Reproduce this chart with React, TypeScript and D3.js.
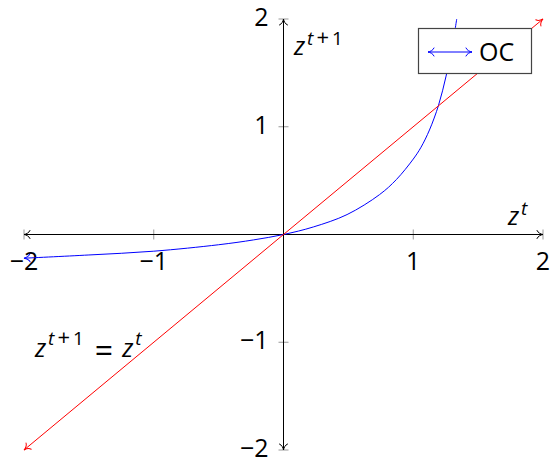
import React from 'react';
import * as d3 from 'd3';

// values
const tickValues = [-2, -1, 0, 1, 2];
const tickLabels = ['−2', '−1', '', '1', '2'];
const ocX = [-2, -1.5, -1, -0.5, -0.23, 0, 0.23, 0.49, 0.74, 0.87, 1.0, 1.06, 1.125, 1.195, 1.253, 1.3, 1.335];
const ocY = [-0.22, -0.19, -0.155, -0.095, -0.05, 0, 0.07, 0.185, 0.37, 0.51, 0.7, 0.81, 0.97, 1.2, 1.47, 1.74, 2.0];
const diagX = [-2, 2];
const legendLabel = 'OC';

const W = 550;
const H = 460;
const FONT = '"Open Sans", "Noto Sans", sans-serif';

const x = d3.scaleLinear().domain([-2, 2]).range([24, 543]);
const y = d3.scaleLinear().domain([-2, 2]).range([450, 19]);

const line = d3
  .line<[number, number]>()
  .x((d) => x(d[0]))
  .y((d) => y(d[1]))
  .curve(d3.curveCatmullRom.alpha(0.5));

const ocPts: [number, number][] = ocX.map((v, i) => [v, ocY[i]]);
const diagPts: [number, number][] = diagX.map((v) => [v, v]);

const Arrow = ({ id, color }: { id: string; color: string }) => (
  <marker
    id={id}
    viewBox="-8 -5 10 10"
    refX={0}
    refY={0}
    markerWidth={10}
    markerHeight={10}
    markerUnits="userSpaceOnUse"
    orient="auto-start-reverse"
  >
    <path
      d="M-6,-4 C-5,-1.5 -2,-0.4 0,0 C-2,0.4 -5,1.5 -6,4"
      fill="none"
      stroke={color}
      strokeWidth={1}
      strokeLinecap="round"
    />
  </marker>
);

// z^{t+1} style superscript pieces
const Sup = ({ plusOne, dy }: { plusOne: boolean; dy: number }) => (
  <>
    <tspan dy={-dy} dx={2} fontSize={19} fontStyle="italic">t</tspan>
    {plusOne && <tspan dx={3} fontSize={22}>+</tspan>}
    {plusOne && <tspan dx={3} fontSize={19}>1</tspan>}
  </>
);

export default function App() {
  const x0 = x(0);
  const y0 = y(0);
  return (
    <svg
      width={W}
      height={H}
      style={{ position: 'absolute', left: 0, top: 0, background: '#fff' }}
      fontFamily={FONT}
    >
      <defs>
        <Arrow id="arr-k" color="#000" />
        <Arrow id="arr-r" color="#f00" />
        <Arrow id="arr-b" color="#00f" />
      </defs>

      {/* ticks */}
      {tickValues.map((t) => (
        <g key={'t' + t} stroke="#999" strokeWidth={1}>
          <line x1={x(t)} x2={x(t)} y1={y0 - 5} y2={y0 + 5} />
          <line x1={x0 - 5} x2={x0 + 5} y1={y(t)} y2={y(t)} />
        </g>
      ))}

      {/* axes */}
      <line x1={x(-2)} x2={x(2)} y1={y0} y2={y0} stroke="#000" strokeWidth={1}
        markerStart="url(#arr-k)" markerEnd="url(#arr-k)" />
      <line x1={x0} x2={x0} y1={y(-2)} y2={y(2)} stroke="#000" strokeWidth={1}
        markerStart="url(#arr-k)" markerEnd="url(#arr-k)" />

      {/* tick labels */}
      {tickValues.map((t, i) =>
        tickLabels[i] ? (
          <g key={'l' + t} fontSize={25} fill="#000">
            <text x={x(t)} y={y0 + 35} textAnchor="middle">{tickLabels[i]}</text>
            <text x={x0 - 15} y={y(t) + 7} textAnchor="end">{tickLabels[i]}</text>
          </g>
        ) : null
      )}

      {/* axis labels */}
      <text x={294} y={55} fontSize={25}>
        <tspan fontStyle="italic">z</tspan>
        <Sup plusOne dy={10} />
      </text>
      <text x={508} y={225} fontSize={25}>
        <tspan fontStyle="italic">z</tspan>
        <Sup plusOne={false} dy={10} />
      </text>

      {/* diagonal label */}
      <text x={35} y={357} fontSize={25}>
        <tspan fontStyle="italic">z</tspan>
        <Sup plusOne dy={12} />
        <tspan dy={17} dx={11} fontSize={32}>=</tspan>
        <tspan dy={-5} dx={9} fontStyle="italic">z</tspan>
        <Sup plusOne={false} dy={12} />
      </text>

      {/* series */}
      <path d={line(ocPts) ?? ''} fill="none" stroke="#00f" strokeWidth={1}
        markerStart="url(#arr-b)" />
      <path d={line(diagPts) ?? ''} fill="none" stroke="#f00" strokeWidth={1}
        markerStart="url(#arr-r)" markerEnd="url(#arr-r)" />

      {/* legend */}
      <g>
        <rect x={418.5} y={28.5} width={113} height={45} fill="#fff" stroke="#444" strokeWidth={1.2} />
        <line x1={428} x2={472} y1={52} y2={52} stroke="#00f" strokeWidth={1}
          markerStart="url(#arr-b)" markerEnd="url(#arr-b)" />
        <text x={479} y={61} fontSize={25} fill="#000">{legendLabel}</text>
      </g>
    </svg>
  );
}
